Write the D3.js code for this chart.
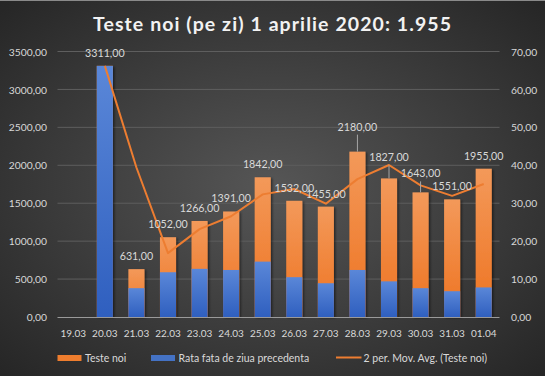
<!DOCTYPE html>
<html><head><meta charset="utf-8">
<script src="https://cdn.jsdelivr.net/npm/d3@7"></script>
<style>html,body{margin:0;padding:0;background:#333;}svg{display:block;}</style>
</head><body>
<svg id="chart" width="545" height="376"></svg>
<script>
const categories = ["19.03","20.03","21.03","22.03","23.03","24.03","25.03","26.03","27.03","28.03","29.03","30.03","31.03","01.04"];
const testeNoi = [null,3311,631,1052,1266,1391,1842,1532,1455,2180,1827,1643,1551,1955];
const rataFata = [null,66.2,7.6,11.8,12.7,12.4,14.6,10.5,8.9,12.4,9.4,7.6,6.8,7.8];
const leftTicks = [0,500,1000,1500,2000,2500,3000,3500];
const rightTicks = [0,10,20,30,40,50,60,70];
const titleText = "Teste noi (pe zi) 1 aprilie 2020: 1.955";
const legendLabels = ["Teste noi","Rata fata de ziua precedenta","2 per. Mov. Avg. (Teste noi)"];

// 2-period moving average (Excel trendline) of Teste noi
const movAvg = testeNoi.map((v,i)=> i===0 ? null : d3.mean([testeNoi[i-1], v].filter(x=>x!=null)));

const W=545,H=376;
const svg=d3.select("#chart");
const defs=svg.append("defs");
const bg=defs.append("radialGradient").attr("id","bg").attr("cx","50%").attr("cy","50%").attr("r","70%");
bg.append("stop").attr("offset","0%").attr("stop-color","#565656");
bg.append("stop").attr("offset","100%").attr("stop-color","#262626");
const og=defs.append("linearGradient").attr("id","og").attr("x1",0).attr("y1",0).attr("x2",0).attr("y2",1);
og.append("stop").attr("offset","0%").attr("stop-color","#f3995a");
og.append("stop").attr("offset","100%").attr("stop-color","#ee7320");
const bgd=defs.append("linearGradient").attr("id","bgd").attr("x1",0).attr("y1",0).attr("x2",0).attr("y2",1);
bgd.append("stop").attr("offset","0%").attr("stop-color","#5a87d8");
bgd.append("stop").attr("offset","100%").attr("stop-color","#2f5fbf");
const sh=defs.append("filter").attr("id","sh").attr("x","-20%").attr("y","-20%").attr("width","150%").attr("height","150%");
sh.append("feDropShadow").attr("dx",1.5).attr("dy",1).attr("stdDeviation",1).attr("flood-color","#000").attr("flood-opacity",0.5);

svg.append("rect").attr("width",W).attr("height",H).attr("fill","url(#bg)");
svg.append("line").attr("x1",0).attr("x2",W).attr("y1",0.5).attr("y2",0.5).attr("stroke","#8a8a8a").attr("stroke-width",1);

const font="Lato, 'Open Sans', sans-serif";
const txtCol="#d9d9d9";
const fmt=v=>d3.format(".2f")(v).replace(".",",");

const x=d3.scaleBand().domain(categories).range([57.5,499.5]).paddingInner(0.49).paddingOuter(0.245);
const yL=d3.scaleLinear().domain([0,3500]).range([317,51.5]);
const yR=d3.scaleLinear().domain([0,70]).range([317,51.5]);

// gridlines
svg.append("g").selectAll("line").data(leftTicks.filter(t=>t>0)).join("line")
  .attr("x1",57.5).attr("x2",499.5).attr("y1",d=>yL(d)).attr("y2",d=>yL(d))
  .attr("stroke","#5e5e5e").attr("stroke-width",1);

// left axis
const gl=svg.append("g").attr("transform","translate(47,0)")
  .call(d3.axisLeft(yL).tickValues(leftTicks).tickFormat(fmt).tickSize(0).tickPadding(0));
gl.select(".domain").remove();
gl.selectAll("text").attr("fill",txtCol).attr("font-family",font).attr("font-size","10.3px").attr("dy","0.35em");
// right axis
const gr=svg.append("g").attr("transform","translate(511,0)")
  .call(d3.axisRight(yR).tickValues(rightTicks).tickFormat(fmt).tickSize(0).tickPadding(0));
gr.select(".domain").remove();
gr.selectAll("text").attr("fill",txtCol).attr("font-family",font).attr("font-size","10.3px").attr("dy","0.35em");

// bars
const idx=d3.range(categories.length);
svg.append("g").attr("filter","url(#sh)").selectAll("rect").data(idx.filter(i=>testeNoi[i]!=null)).join("rect")
  .attr("x",i=>x(categories[i])).attr("width",x.bandwidth())
  .attr("y",i=>yL(testeNoi[i])).attr("height",i=>yL(0)-yL(testeNoi[i]))
  .attr("fill","url(#og)");
svg.append("g").selectAll("rect").data(idx.filter(i=>rataFata[i]!=null)).join("rect")
  .attr("x",i=>x(categories[i])).attr("width",x.bandwidth())
  .attr("y",i=>yR(rataFata[i])).attr("height",i=>yR(0)-yR(rataFata[i]))
  .attr("fill","url(#bgd)");

// x axis line
svg.append("line").attr("x1",57.5).attr("x2",499.5).attr("y1",317.5).attr("y2",317.5).attr("stroke","#9a9a9a").attr("stroke-width",1.2);
const gx=svg.append("g").attr("transform","translate(0,337)")
  .call(d3.axisBottom(x).tickSize(0).tickPadding(0));
gx.select(".domain").remove();
gx.selectAll("text").attr("fill",txtCol).attr("font-family",font).attr("font-size","10px").attr("dy","0");

// moving average line
const line=d3.line().defined(d=>d.v!=null).x(d=>x(d.c)+x.bandwidth()/2).y(d=>yL(d.v));
svg.append("path").datum(categories.map((c,i)=>({c,v:movAvg[i]})))
  .attr("d",line).attr("fill","none").attr("stroke","#ed7d31").attr("stroke-width",2).attr("stroke-linejoin","round");

// data labels
const labelLift={"28.03":12,"29.03":8,"30.03":6};
const lg=svg.append("g");
idx.filter(i=>testeNoi[i]!=null).forEach(i=>{
  const c=categories[i], cx=x(c)+x.bandwidth()/2, top=yL(testeNoi[i]);
  const lift=labelLift[c]||0;
  const base=top-9-lift;
  if(lift>0){
    lg.append("line").attr("x1",cx).attr("x2",cx).attr("y1",base+4).attr("y2",top).attr("stroke","#a6a6a6").attr("stroke-width",1);
  }
  lg.append("text").attr("x",cx).attr("y",base).attr("text-anchor","middle")
    .attr("fill",txtCol).attr("font-family",font).attr("font-size","10.7px").text(fmt(testeNoi[i]));
});

// title
svg.append("text").attr("x",272).attr("y",31).attr("text-anchor","middle")
  .attr("font-family",font).attr("font-weight","bold").attr("font-size","19.5px")
  .attr("fill","#f2f2f2").attr("textLength",358).attr("lengthAdjust","spacing").text(titleText);

// legend
const leg=svg.append("g").attr("font-family",font).attr("font-size","10.5px").attr("fill",txtCol);
leg.append("rect").attr("x",57.5).attr("y",355).attr("width",24).attr("height",6).attr("fill","#ee7d2e");
leg.append("text").attr("x",85).attr("y",361.5).text(legendLabels[0]);
leg.append("rect").attr("x",151).attr("y",355).attr("width",24).attr("height",6).attr("fill","#4472c4");
leg.append("text").attr("x",178.5).attr("y",361.5).text(legendLabels[1]);
leg.append("line").attr("x1",336).attr("x2",361.5).attr("y1",357.5).attr("y2",357.5).attr("stroke","#ed7d31").attr("stroke-width",2);
leg.append("text").attr("x",363.5).attr("y",361.5).text(legendLabels[2]);
</script>
</body></html>
